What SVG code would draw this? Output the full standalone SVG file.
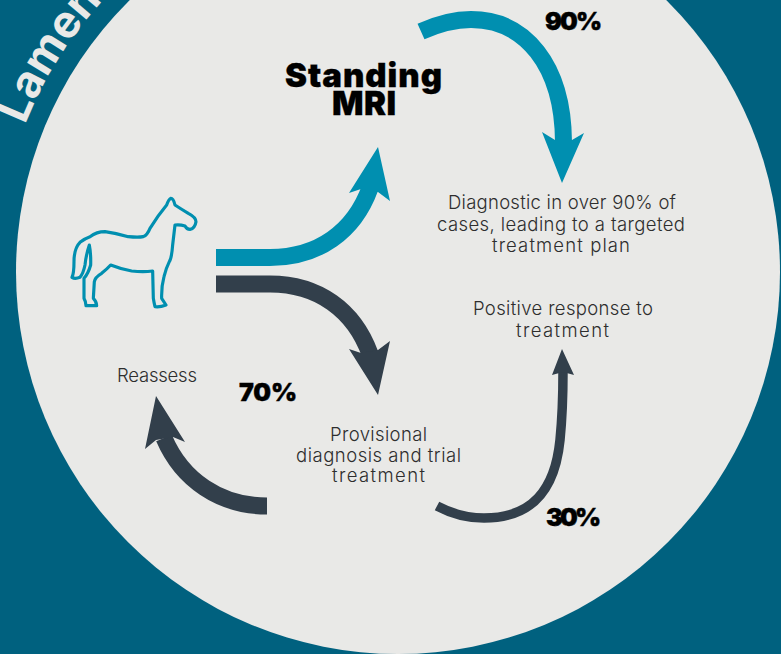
<svg xmlns="http://www.w3.org/2000/svg" width="781" height="654" viewBox="0 0 781 654">
<style>
.b{font-family:"Inter","Liberation Sans",sans-serif;font-weight:300;font-size:18.5px;fill:#2e2e2e;text-anchor:start}
.h{font-family:"Inter","Liberation Sans",sans-serif;font-weight:900;fill:#000;stroke:#000}
.p{font-size:25px;stroke-width:.4}
.t{font-size:33px;stroke-width:.3}
.teal{stroke:#008fb0;fill:none}
.dark{stroke:#323f4b;fill:none}
.ft{fill:#008fb0}
.fd{fill:#323f4b}
</style>
<defs><path id="arc" d="M25,125 A401,401 0 0 1 398,-129"/></defs>
<rect width="781" height="654" fill="#00617f"/>
<circle cx="398" cy="272" r="382" fill="#e9e9e7"/>
<text font-family="Inter,'Liberation Sans',sans-serif" font-weight="700" font-size="45" fill="#e9e9e7"><textPath href="#arc">Lamen</textPath></text>
<g id="connectors">
<path class="teal" stroke-width="17" d="M216,257.5 H270 C318,257.5 354,232 370,188"/>
<path class="ft" d="M378,147 L390,201 L378,192 L361,189 L349,193Z"/>
<path class="dark" stroke-width="17" d="M216,284 H270 C318,284 354,310 370,354"/>
<path class="fd" d="M378,395 L390,341 L378,350 L361,353 L349,349Z"/>
<path class="teal" stroke-width="17" d="M421,31.5 C440,23 455,19.5 471,19.5 C525,19.5 563,65 563.5,142"/>
<path class="ft" d="M562,183 L584,133 L572,140 L555,140 L542,132Z"/>
<path class="dark" stroke-width="17" d="M267,506 C220,506 182,480 164,438"/>
<path class="fd" d="M156,396 L185,442 L173,437 L156,440 L145,449Z"/>
<path class="dark" stroke-width="9.5" d="M437,506 C452,514 468,518 484,518 C532,518 555,490 560,440 C562,420 563,400 563,371"/>
<path class="fd" d="M562,349 L574,375 L563,372 L552,375Z"/>
</g>
<g id="horse" transform="translate(60,190) scale(0.3333)">
<path fill="none" stroke="#008fb0" stroke-width="9.5" stroke-linejoin="round" stroke-linecap="round" d="M320,45 Q326,28 332,25 Q340,24 345,45 Q360,55 385,70 Q408,82 408,95 Q405,115 390,118 Q380,118 375,108 Q360,103 345,105 Q342,130 338,165 Q335,205 328,215 Q318,235 312,260 Q304,290 305,325 L318,345 Q300,352 285,350 Q282,338 280,325 L278,243 Q250,247 215,243 Q185,238 152,225 Q140,238 125,250 Q105,262 103,275 L100,325 Q110,335 110,347 L78,347 Q78,335 72,325 L72,265 Q85,250 92,225 Q93,190 88,165 Q78,195 75,225 Q70,250 60,262 Q45,268 36,262 Q42,250 42,215 Q42,175 60,157 Q75,145 90,140 Q110,125 135,125 Q170,130 205,140 Q235,143 250,140 Q262,135 270,115 Q295,75 320,45Z"/>
</g>
<g id="standing-mri"><text class="h t" x="285" y="87" textLength="157">Standing</text><text class="h t" x="332" y="115" textLength="64">MRI</text></g>
<g id="diagnostic"><text class="b" x="448" y="209" textLength="228">Diagnostic in over 90% of</text><text class="b" x="437" y="231" textLength="248">cases, leading to a targeted</text><text class="b" x="492" y="252" textLength="138">treatment plan</text></g>
<g id="positive"><text class="b" x="473" y="315" textLength="180">Positive response to</text><text class="b" x="516" y="337" textLength="93">treatment</text></g>
<g id="reassess"><text class="b" x="117" y="382" textLength="80">Reassess</text></g>
<g id="provisional"><text class="b" x="330" y="441" textLength="97">Provisional</text><text class="b" x="296" y="462" textLength="165">diagnosis and trial</text><text class="b" x="332" y="482" textLength="93">treatment</text></g>
<g id="p90"><text class="h p" x="545" y="30" textLength="57">90%</text></g>
<g id="p70"><text class="h p" x="239" y="401" textLength="58">70%</text></g>
<g id="p30"><text class="h p" x="546" y="526" textLength="55">30%</text></g>
</svg>
